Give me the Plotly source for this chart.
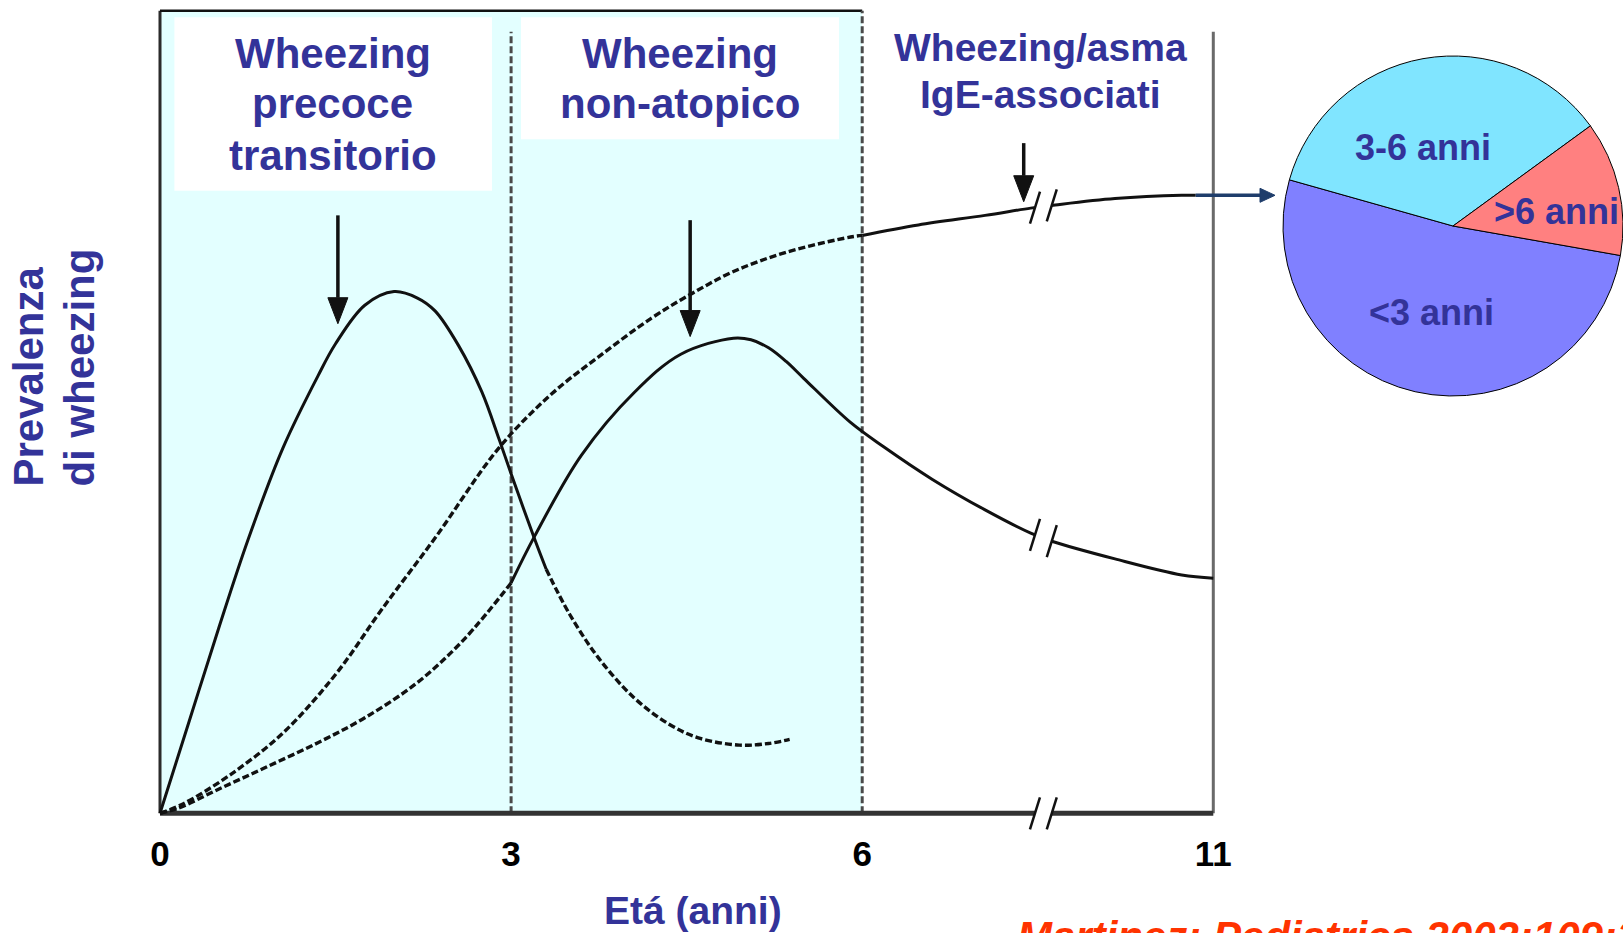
import numpy as np
import plotly.graph_objects as go

# ---------------------------------------------------------------------------
# Data
# ---------------------------------------------------------------------------
# Age axis: linear up to 6 years, compressed after the axis break (6 -> 11)
AGE_TICKS = [0, 3, 6, 11]
AGE_TICK_TEXT = ["0", "3", "6", "11"]

# Transient early wheezing (solid first, dashed tail)
early_age = [0, 0.25, 0.5, 0.75, 1.05, 1.35, 1.5, 1.75, 2.0, 2.2, 2.35, 2.55,
             2.75, 2.9, 3.0, 3.2, 3.3, 3.5, 3.75, 4.05, 4.35, 4.6, 4.95, 5.2, 5.38]
early_prev = [0, 11.5, 23.0, 34.0, 45.5, 54.5, 58.5, 63.3, 65.0, 64.2, 62.6, 58.3,
              52.5, 46.5, 42.3, 34.2, 30.4, 24.8, 19.3, 14.4, 11.1, 9.4, 8.5, 8.7, 9.2]
EARLY_SOLID_UNTIL = 3.3

# Non-atopic wheezing (dashed first, solid afterwards)
nonatopic_age = [0, 0.15, 0.5, 0.9, 1.35, 1.75, 2.2, 2.6, 3.0, 3.2, 3.6, 4.05, 4.45,
                 4.9, 5.05, 5.2, 5.35, 5.5, 5.9, 6.3, 7.0, 7.75, 8.4, 8.7, 9.6, 10.55, 11]
nonatopic_prev = [0, 0.6, 3.0, 5.7, 8.8, 11.9, 16.3, 21.7, 28.7, 34.5, 44.6, 52.4, 57.2,
                  59.2, 59.0, 58.0, 56.3, 54.2, 48.7, 45.7, 41.6, 37.8, 34.9, 33.9, 31.7,
                  29.7, 29.3]
NONATOPIC_DASHED_UNTIL = 3.0

# IgE-associated wheezing / asthma (dashed first, solid afterwards)
ige_age = [0, 0.2, 0.6, 1.05, 1.5, 1.9, 2.35, 2.9, 3.35, 3.75, 4.2, 4.55, 4.9, 5.35,
           5.9, 6.0, 6.8, 7.75, 8.4, 8.75, 9.6, 10.55, 10.75]
ige_prev = [0, 1.2, 4.8, 10.0, 17.3, 25.5, 34.3, 45.6, 52.3, 56.9, 61.7, 64.8, 67.5, 69.9,
            71.8, 72.0, 73.3, 74.5, 75.4, 75.8, 76.6, 77.0, 77.0]
IGE_DASHED_UNTIL = 6.0

# Onset of IgE-associated wheezing/asthma
pie_labels = ["<3 anni", "3-6 anni", ">6 anni"]
pie_values = [51.6, 35.6, 12.8]
pie_colors = ["#8080FF", "#80E5FF", "#FF8080"]

# Phenotype headings
heading_early = ["Wheezing", "precoce", "transitorio"]
heading_nonatopic = ["Wheezing", "non-atopico"]
heading_ige = ["Wheezing/asma", "IgE-associati"]
y_title = ["Prevalenza", "di wheezing"]
x_title = "Etá (anni)"
citation = "Martinez: Pediatrics 2002;109:362-7"

# Arrows pointing at each curve: (age, tip value, tail value)
pointer_arrows = [(1.52, 61.0, 74.5), (4.53, 59.4, 73.9), (8.3, 76.2, 83.5)]
BREAK_AGE = 8.58

# ---------------------------------------------------------------------------
# Geometry helpers
# ---------------------------------------------------------------------------
W, H = 1623, 933
X0_PX, X9_PX = 160.0, 1213.3          # pixel position of age 0 and age 11
Y0_PX, Y100_PX = 813.3, 10.7          # pixel position of prevalence 0 and 100
PX_X = (X9_PX - X0_PX) / 9.0
PX_Y = (Y0_PX - Y100_PX) / 100.0


def to_pos(age):
    a = np.asarray(age, dtype=float)
    return np.where(a <= 6, a, 6 + (a - 6) * 0.6)


def px2x(px):
    return (px - X0_PX) / PX_X


def py2y(py):
    return (Y0_PX - py) / PX_Y


def paper_x(px):
    return px / W


def paper_y(py):
    return 1 - py / H


FONT = "Liberation Sans, Arial, Helvetica, sans-serif"
NAVY = "#333399"
INK = "#111111"
DASH = "7px,3px"

fig = go.Figure()


def add_segment(ages, vals, lo, hi, dashed):
    a = np.asarray(ages, dtype=float)
    v = np.asarray(vals, dtype=float)
    m = (a >= lo) & (a <= hi)
    fig.add_trace(go.Scatter(
        x=to_pos(a[m]), y=v[m], mode="lines",
        line=dict(color=INK, width=3.4 if dashed else 3,
                  dash=DASH if dashed else "solid",
                  shape="spline", smoothing=1.0),
        hoverinfo="skip", showlegend=False, cliponaxis=False))


add_segment(early_age, early_prev, 0, EARLY_SOLID_UNTIL, False)
add_segment(early_age, early_prev, EARLY_SOLID_UNTIL, 99, True)
add_segment(nonatopic_age, nonatopic_prev, 0, NONATOPIC_DASHED_UNTIL, True)
add_segment(nonatopic_age, nonatopic_prev, NONATOPIC_DASHED_UNTIL, 99, False)
add_segment(ige_age, ige_prev, 0, IGE_DASHED_UNTIL, True)
add_segment(ige_age, ige_prev, IGE_DASHED_UNTIL, 99, False)

# Pie of onset age
fig.add_trace(go.Pie(
    labels=pie_labels, values=pie_values, sort=False, direction="clockwise",
    rotation=100, textinfo="none", hoverinfo="label+percent",
    marker=dict(colors=pie_colors, line=dict(color="black", width=1)),
    domain=dict(x=[1283 / W, 1.0], y=[paper_y(398), paper_y(54)]),
    showlegend=False))

# ---------------------------------------------------------------------------
# Shapes: shaded band, heading boxes, frame, axis, breaks, arrows
# ---------------------------------------------------------------------------
shapes = []
shapes.append(dict(type="rect", xref="x", yref="y", x0=0, x1=6, y0=0, y1=100,
                   fillcolor="#E3FFFF", line=dict(width=0), layer="below"))
for x_a, x_b, y_b in [(174.4, 492, 190.7), (521, 839, 139.3)]:
    shapes.append(dict(type="rect", xref="x", yref="y", x0=px2x(x_a), x1=px2x(x_b),
                       y0=py2y(y_b), y1=py2y(17.3), fillcolor="white",
                       line=dict(width=0), layer="below"))

top_inner = py2y(31.7)
frame_lines = [
    (0, 0, 0, 100, "#2b2b2b", 3, "solid"),
    (0, 100, 6, 100, "#111111", 2.5, "solid"),
    (3, 0, 3, top_inner, "#4a4a4a", 3, DASH),
    (6, 0, 6, 100, "#4a4a4a", 3, DASH),
    (9, 0, 9, top_inner, "#6a6a6a", 3, "solid"),
    (0, 0, 9, 0, "#333333", 5, "solid"),
]
for x0, y0, x1, y1, c, w, d in frame_lines:
    shapes.append(dict(type="line", xref="x", yref="y", x0=x0, y0=y0, x1=x1, y1=y1,
                       line=dict(color=c, width=w, dash=d), layer="below"))

# Axis breaks "//" on the age axis and on the two curves that cross it
bpos = float(to_pos(BREAK_AGE))
half_gap = 8.4 / PX_X
sdx, sdy = 5.0 / PX_X, 16.0 / PX_Y
for ages, vals in [(None, None), (nonatopic_age, nonatopic_prev), (ige_age, ige_prev)]:
    xa, xb = bpos - half_gap, bpos + half_gap
    if ages is None:
        ya = yb = 0.0
        gw = 9
    else:
        ya = float(np.interp(xa, to_pos(ages), vals))
        yb = float(np.interp(xb, to_pos(ages), vals))
        gw = 6
    shapes.append(dict(type="line", xref="x", yref="y", x0=xa, y0=ya, x1=xb, y1=yb,
                       line=dict(color="white", width=gw), layer="above"))
    for xc, yc in [(xa, ya), (xb, yb)]:
        shapes.append(dict(type="line", xref="x", yref="y", x0=xc - sdx, y0=yc - sdy,
                           x1=xc + sdx, y1=yc + sdy,
                           line=dict(color=INK, width=2.5), layer="above"))


def arrow(x_tail, y_tail, x_tip, y_tip, color, width, head_len_px, head_half_px):
    vx, vy = (x_tip - x_tail) * PX_X, (y_tip - y_tail) * PX_Y
    n = np.hypot(vx, vy)
    ux, uy = vx / n, vy / n
    bx_px, by_px = -ux * head_len_px, -uy * head_len_px
    px_, py_ = -uy * head_half_px, ux * head_half_px
    bx, by = x_tip + bx_px / PX_X, y_tip + by_px / PX_Y
    shapes.append(dict(type="line", xref="x", yref="y", x0=x_tail, y0=y_tail,
                       x1=bx, y1=by, line=dict(color=color, width=width), layer="above"))
    path = (f"M {x_tip},{y_tip} L {bx + px_ / PX_X},{by + py_ / PX_Y} "
            f"L {bx - px_ / PX_X},{by - py_ / PX_Y} Z")
    shapes.append(dict(type="path", xref="x", yref="y", path=path, fillcolor=color,
                       line=dict(color=color, width=1), layer="above"))


for age, tip, tail in pointer_arrows:
    xp = float(to_pos(age))
    arrow(xp, tail, xp, tip, INK, 3.5, 26, 10)

# IgE curve feeds the pie
arrow(float(to_pos(ige_age[-1])), ige_prev[-1], px2x(1275), ige_prev[-1],
      "#1F3D6B", 3.5, 15, 7)

# ---------------------------------------------------------------------------
# Text
# ---------------------------------------------------------------------------
ann = []


def text(t, px, py, size, color=NAVY, xanchor="center", yanchor="middle",
         angle=0, style="normal"):
    ann.append(dict(text=t, x=paper_x(px), y=paper_y(py), xref="paper", yref="paper",
                    xanchor=xanchor, yanchor=yanchor, showarrow=False, textangle=angle,
                    font=dict(family=FONT, size=size, color=color, weight="bold",
                              style=style)))


for t, py in zip(heading_early, [53.6, 103.6, 155.3]):
    text(t, 332.5, py, 42)
for t, py in zip(heading_nonatopic, [53.6, 103.6]):
    text(t, 680, py, 42)
for t, py in zip(heading_ige, [47.3, 94.6]):
    text(t, 1040, py, 39)

for t, px in zip(y_title, [29, 80]):
    text(t, px, 488.6, 42, yanchor="bottom", angle=-90)

text(x_title, 692.5, 910, 39)

for t, (px, py) in zip(pie_labels, [(1431.7, 312.8), (1422.5, 147.8), (1556.7, 211)]):
    text(t, px, py, 36)

text(citation, 1015, 936, 42, color="#FF3300", xanchor="left", style="italic")

fig.update_layout(
    width=W, height=H, margin=dict(l=0, r=0, t=0, b=0),
    paper_bgcolor="white", plot_bgcolor="white", showlegend=False,
    shapes=shapes, annotations=ann,
    xaxis=dict(domain=[0, 1], range=[px2x(0), px2x(W)], anchor="free",
               position=paper_y(Y0_PX), showgrid=False, zeroline=False,
               showline=False, ticks="outside", ticklen=10,
               tickcolor="rgba(0,0,0,0)",
               tickvals=to_pos(AGE_TICKS).tolist(), ticktext=AGE_TICK_TEXT,
               tickfont=dict(family=FONT, size=35, color="black", weight="bold")),
    yaxis=dict(domain=[0, 1], range=[py2y(H), py2y(0)], visible=False),
)

fig.write_html("out.html")
